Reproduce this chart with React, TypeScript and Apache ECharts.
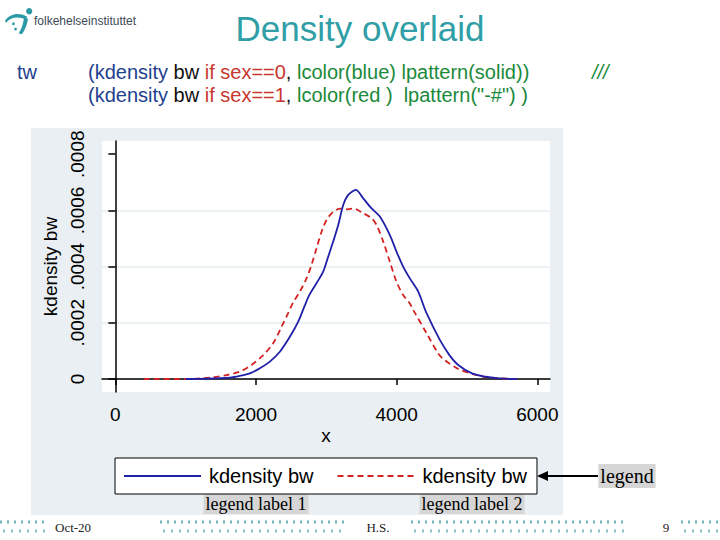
import React, { useEffect, useRef } from 'react';
import * as echarts from 'echarts';

// ---- data ----
const seriesNames = ['sex==0', 'sex==1'];
const legendLabels = ['kdensity bw', 'kdensity bw'];
const xTicks = [0, 2000, 4000, 6000];
const xTickLabels = ['0', '2000', '4000', '6000'];
const yTicks = [0, 0.0002, 0.0004, 0.0006, 0.0008];
const yTickLabels = ['0', '.0002', '.0004', '.0006', '.0008'];

const blueX = [1000, 1300, 1628, 1770, 1912, 2055, 2197, 2339, 2481, 2600, 2694, 2760, 2860, 2955, 3026, 3097, 3169, 3240, 3311, 3419, 3524, 3643, 3761, 3903, 3998, 4092, 4187, 4306, 4425, 4614, 4750, 4875, 5071, 5268, 5464, 5710];
const blueY = [0, 0.000001, 0.000005, 0.000011, 0.00002, 0.000038, 0.000062, 0.000097, 0.00015, 0.000204, 0.000262, 0.0003, 0.000341, 0.000382, 0.000435, 0.000489, 0.000548, 0.000619, 0.000655, 0.000673, 0.000643, 0.000607, 0.000578, 0.000512, 0.000453, 0.0004, 0.000358, 0.000311, 0.000234, 0.000139, 0.000085, 0.00005, 0.00002, 0.000008, 0.000002, 0];

const redX = [403, 1000, 1391, 1581, 1770, 1936, 2102, 2244, 2363, 2458, 2528, 2623, 2718, 2789, 2860, 2932, 3003, 3097, 3200, 3300, 3381, 3524, 3643, 3714, 3809, 3903, 3998, 4092, 4187, 4235, 4425, 4590, 4678, 4875, 5071, 5268, 5464, 5710];
const redY = [0, 0, 0.000006, 0.000014, 0.000026, 0.00005, 0.000085, 0.000127, 0.000186, 0.000235, 0.000272, 0.000311, 0.000358, 0.000406, 0.000465, 0.000524, 0.000566, 0.000595, 0.000606, 0.000604, 0.000607, 0.00059, 0.000572, 0.000548, 0.000489, 0.000417, 0.000346, 0.000299, 0.000269, 0.000246, 0.000163, 0.000091, 0.000068, 0.000036, 0.000018, 0.000007, 0.000002, 0];

const SANS = '"Liberation Sans", Arial, sans-serif';
const SERIF = '"Liberation Serif", "Times New Roman", serif';

let registered = false;
function registerShapes() {
  if (registered) return;
  registered = true;
  echarts.graphic.registerShape(
    'logoSwoosh',
    echarts.graphic.extendPath('M1 13 C 6 6, 14 5, 22 9 L 21 12 C 14 9, 7 9, 2 15 Z', {})
  );
  echarts.graphic.registerShape(
    'logoBody',
    echarts.graphic.extendPath('M19 11 L 23 11 C 22 17, 20 22, 17 26 L 14 25 C 17 21, 18 16, 19 11 Z', {})
  );
}

export default function App() {
  const ref = useRef<HTMLDivElement>(null);

  useEffect(() => {
    registerShapes();
    const chart = echarts.init(ref.current!, null, { renderer: 'svg' });

    const blueData = blueX.map((x, i) => [x, blueY[i]]);
    const redData = redX.map((x, i) => [x, redY[i]]);

    const footerDots = [
      [0, 48],
      [160, 346],
      [411, 628],
      [681, 720],
    ];
    const dotEls: any[] = [];
    footerDots.forEach(([a, b]) => {
      dotEls.push({
        type: 'line',
        shape: { x1: a, y1: 522, x2: b, y2: 522 },
        style: { stroke: '#6fb3bb', lineWidth: 3, lineDash: [2, 5] },
      });
      dotEls.push({
        type: 'line',
        shape: { x1: a + 3, y1: 531, x2: b, y2: 531 },
        style: { stroke: '#8cc0c8', lineWidth: 3, lineDash: [2, 6] },
      });
    });

    const option: any = {
      animation: false,
      grid: {
        left: 102,
        top: 141,
        width: 448,
        height: 251,
        show: true,
        backgroundColor: '#ffffff',
        borderWidth: 0,
        containLabel: false,
      },
      xAxis: {
        type: 'value',
        min: -190,
        max: 6180,
        name: 'x',
        nameLocation: 'middle',
        nameGap: 34,
        nameTextStyle: { fontSize: 19, fontFamily: SANS, color: '#000' },
        axisLine: { show: true, lineStyle: { color: '#000', width: 1.5 } },
        axisTick: { show: true, length: 6, customValues: xTicks, lineStyle: { color: '#000', width: 1.5 } },
        axisLabel: {
          customValues: xTicks,
          fontSize: 19,
          fontFamily: SANS,
          color: '#000',
          margin: 13,
          formatter: (v: number) => {
            const i = xTicks.findIndex((t) => Math.abs(t - v) < 1e-6);
            return i >= 0 ? xTickLabels[i] : '';
          },
        },
        splitLine: { show: false },
      },
      yAxis: {
        type: 'value',
        min: -0.0000463,
        max: 0.000847,
        name: 'kdensity bw',
        nameLocation: 'middle',
        nameGap: 37,
        nameRotate: 90,
        nameTextStyle: { fontSize: 19, fontFamily: SANS, color: '#000' },
        axisLine: { show: true, lineStyle: { color: '#000', width: 1.5 } },
        axisTick: { show: true, length: 7, customValues: yTicks, lineStyle: { color: '#000', width: 1.5 } },
        axisLabel: {
          customValues: yTicks,
          rotate: 90,
          fontSize: 19,
          fontFamily: SANS,
          color: '#000',
          margin: 15,
          formatter: (v: number) => {
            const i = yTicks.findIndex((t) => Math.abs(t - v) < 1e-9);
            return i >= 0 ? yTickLabels[i] : '';
          },
        },
        splitLine: {
          show: true,
          lineStyle: { color: ['#e6ecef', '#e6ecef', '#e6ecef', '#e6ecef', '#ffffff'], width: 1.5 },
        },
      },
      legend: {
        left: 115,
        top: 458,
        orient: 'horizontal',
        padding: [8, 10, 8, 8],
        itemGap: 23,
        itemWidth: 77,
        itemHeight: 14,
        backgroundColor: '#ffffff',
        borderColor: '#000',
        borderWidth: 1,
        borderRadius: 0,
        data: seriesNames,
        itemStyle: { opacity: 0 },
        lineStyle: { width: 2 },
        formatter: (name: string) => legendLabels[seriesNames.indexOf(name)],
        textStyle: { fontSize: 20, fontFamily: SANS, color: '#000', padding: [0, 0, 0, 3] },
      },
      series: [
        {
          name: seriesNames[0],
          type: 'line',
          data: blueData,
          symbol: 'none',
          smooth: 0.3,
          lineStyle: { color: '#2020a8', width: 1.8, type: 'solid' },
          itemStyle: { color: '#2020a8' },
          z: 3,
        },
        {
          name: seriesNames[1],
          type: 'line',
          data: redData,
          symbol: 'none',
          smooth: 0.3,
          lineStyle: { color: '#d42222', width: 1.8, type: [6, 4] },
          itemStyle: { color: '#d42222' },
          z: 2,
        },
      ],
      graphic: {
        elements: [
          {
            type: 'rect',
            z: -10,
            shape: { x: 31, y: 128, width: 532, height: 387 },
            style: { fill: '#e9eff2' },
          },
          // logo
          {
            type: 'group',
            x: 4,
            y: 7,
            scaleX: 1.05,
            scaleY: 1.05,
            children: [
              { type: 'logoSwoosh', style: { fill: '#2b9aa6' } },
              { type: 'logoBody', style: { fill: '#2b9aa6' } },
              { type: 'circle', shape: { cx: 24, cy: 4, r: 3 }, style: { fill: '#2b9aa6' } },
              { type: 'circle', shape: { cx: 9, cy: 16, r: 1.3 }, style: { fill: '#2b9aa6' } },
              { type: 'circle', shape: { cx: 11, cy: 21, r: 1.3 }, style: { fill: '#2b9aa6' } },
            ],
          },
          {
            type: 'text',
            style: {
              x: 34,
              y: 21,
              text: 'folkehelseinstituttet',
              fontSize: 12,
              fontFamily: SANS,
              fill: '#3c4a55',
              textAlign: 'left',
              textVerticalAlign: 'middle',
              align: 'left',
              verticalAlign: 'middle',
            },
          },
          // title
          {
            type: 'text',
            style: {
              x: 360,
              y: 28,
              text: 'Density overlaid',
              fontSize: 35,
              fontFamily: SANS,
              fill: '#2f9ea6',
              textAlign: 'center',
              textVerticalAlign: 'middle',
              align: 'center',
              verticalAlign: 'middle',
            },
          },
          // code
          {
            type: 'text',
            style: {
              x: 17,
              y: 72,
              text: 'tw',
              fontSize: 20,
              fontFamily: SANS,
              fill: '#1f3f8f',
              textVerticalAlign: 'middle',
              verticalAlign: 'middle',
            },
          },
          {
            type: 'text',
            style: {
              x: 88,
              y: 72,
              text: '{b|(kdensity} {k|bw} {r|if sex==0}{k|,} {g|lcolor(blue) lpattern(solid))}',
              fontSize: 20,
              fontFamily: SANS,
              fill: '#111',
              textVerticalAlign: 'middle',
              verticalAlign: 'middle',
              rich: {
                b: { fill: '#1f3f8f', fontSize: 20, fontFamily: SANS },
                k: { fill: '#111111', fontSize: 20, fontFamily: SANS },
                r: { fill: '#c8372f', fontSize: 20, fontFamily: SANS },
                g: { fill: '#1a8a3a', fontSize: 20, fontFamily: SANS },
              },
            },
          },
          {
            type: 'text',
            style: {
              x: 88,
              y: 95,
              text: '{b|(kdensity} {k|bw} {r|if sex==1}{k|,} {g|lcolor(red )  lpattern("-#") )}',
              fontSize: 20,
              fontFamily: SANS,
              fill: '#111',
              textVerticalAlign: 'middle',
              verticalAlign: 'middle',
              rich: {
                b: { fill: '#1f3f8f', fontSize: 20, fontFamily: SANS },
                k: { fill: '#111111', fontSize: 20, fontFamily: SANS },
                r: { fill: '#c8372f', fontSize: 20, fontFamily: SANS },
                g: { fill: '#1a8a3a', fontSize: 20, fontFamily: SANS },
              },
            },
          },
          {
            type: 'text',
            style: {
              x: 592,
              y: 72,
              text: '///',
              fontSize: 20,
              fontFamily: SANS,
              fontStyle: 'italic',
              fill: '#1a8a3a',
              textVerticalAlign: 'middle',
              verticalAlign: 'middle',
            },
          },
          // annotations
          {
            type: 'text',
            style: {
              x: 256,
              y: 504,
              text: 'legend label 1',
              fontSize: 18,
              fontFamily: SERIF,
              fill: '#000',
              backgroundColor: '#d6d6d6',
              padding: [1, 2, 1, 2],
              textAlign: 'center',
              textVerticalAlign: 'middle',
              align: 'center',
              verticalAlign: 'middle',
            },
          },
          {
            type: 'text',
            style: {
              x: 472,
              y: 504,
              text: 'legend label 2',
              fontSize: 18,
              fontFamily: SERIF,
              fill: '#000',
              backgroundColor: '#d6d6d6',
              padding: [1, 2, 1, 2],
              textAlign: 'center',
              textVerticalAlign: 'middle',
              align: 'center',
              verticalAlign: 'middle',
            },
          },
          {
            type: 'text',
            style: {
              x: 627,
              y: 476,
              text: 'legend',
              fontSize: 20,
              fontFamily: SERIF,
              fill: '#000',
              backgroundColor: '#d6d6d6',
              padding: [2, 2, 2, 2],
              textAlign: 'center',
              textVerticalAlign: 'middle',
              align: 'center',
              verticalAlign: 'middle',
            },
          },
          {
            type: 'line',
            shape: { x1: 598, y1: 476, x2: 544, y2: 476 },
            style: { stroke: '#000', lineWidth: 2 },
          },
          {
            type: 'polygon',
            shape: { points: [[537, 476], [548, 471], [548, 481]] },
            style: { fill: '#000' },
          },
          // footer
          ...dotEls,
          {
            type: 'text',
            style: {
              x: 55,
              y: 527,
              text: 'Oct-20',
              fontSize: 13,
              fontFamily: SERIF,
              fill: '#222',
              textVerticalAlign: 'middle',
              verticalAlign: 'middle',
            },
          },
          {
            type: 'text',
            style: {
              x: 378,
              y: 527,
              text: 'H.S.',
              fontSize: 13,
              fontFamily: SERIF,
              fill: '#222',
              textAlign: 'center',
              textVerticalAlign: 'middle',
              align: 'center',
              verticalAlign: 'middle',
            },
          },
          {
            type: 'text',
            style: {
              x: 666,
              y: 527,
              text: '9',
              fontSize: 13,
              fontFamily: SERIF,
              fill: '#222',
              textAlign: 'center',
              textVerticalAlign: 'middle',
              align: 'center',
              verticalAlign: 'middle',
            },
          },
        ],
      },
    };

    chart.setOption(option);
    return () => chart.dispose();
  }, []);

  return (
    <div
      ref={ref}
      style={{ position: 'absolute', left: 0, top: 0, width: 720, height: 540, background: '#ffffff' }}
    />
  );
}
